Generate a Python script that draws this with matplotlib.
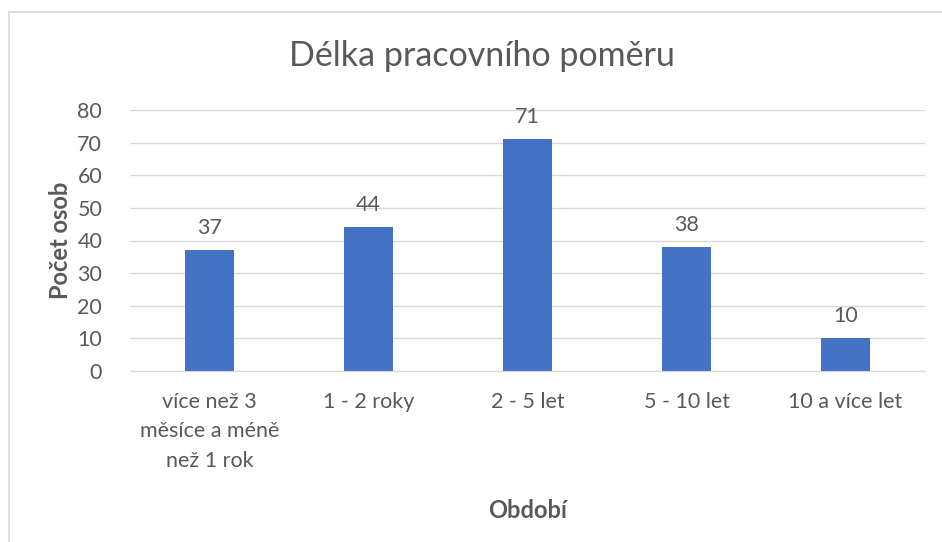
import numpy as np
import matplotlib.pyplot as plt
from matplotlib.patches import Rectangle

# data
categories = ["více než 3\nměsíce a méně\nnež 1 rok", "1 - 2 roky", "2 - 5 let", "5 - 10 let", "10 a více let"]
counts = [37, 44, 71, 38, 10]
y_ticks = [0, 10, 20, 30, 40, 50, 60, 70, 80]

plt.rcParams['font.family'] = ['Lato', 'DejaVu Sans']
text_color = '#595959'
bar_color = '#4472C4'
grid_color = '#D9D9D9'

fig = plt.figure(figsize=(9.42, 5.42), dpi=100)
ax = fig.add_axes([130 / 942, 1 - 371 / 542, (925 - 130) / 942, (371 - 110) / 542])

# chart frame
fig.patches.append(Rectangle((9 / 942, -0.1), 1.1, 1 - 12 / 542 + 0.1, transform=fig.transFigure,
                             fill=False, edgecolor=grid_color, linewidth=1.2))

x = np.arange(len(categories))
bars = ax.bar(x, counts, width=0.31, color=bar_color, zorder=3)
for xi, v in zip(x, counts):
    ax.annotate(str(v), (xi, v), xytext=(0, 9), textcoords='offset points',
                ha='center', va='bottom', fontsize=15.5, color=text_color)

ax.set_xlim(-0.5, len(categories) - 0.5)
ax.set_ylim(0, 80)
ax.set_yticks(y_ticks)
ax.yaxis.grid(True, color=grid_color, linewidth=1, zorder=0)
ax.set_axisbelow(True)
for s in ['top', 'right', 'left']:
    ax.spines[s].set_visible(False)
ax.spines['bottom'].set_color(grid_color)
ax.tick_params(axis='both', length=0, labelsize=15.5, labelcolor=text_color)
ax.tick_params(axis='x', pad=15)
ax.tick_params(axis='y', pad=20)
ax.set_xticks(x)
ax.set_xticklabels(categories, linespacing=1.6)

ax.set_xlabel('Období', fontsize=17, fontweight='bold', color=text_color, labelpad=20)
ax.set_ylabel('Počet osob', fontsize=17, fontweight='bold', color=text_color, labelpad=4)
fig.text(482 / 942, 1 - 56 / 542, 'Délka pracovního poměru', ha='center', va='center',
         fontsize=24.5, color=text_color)

fig.savefig('out.png', dpi=100)
